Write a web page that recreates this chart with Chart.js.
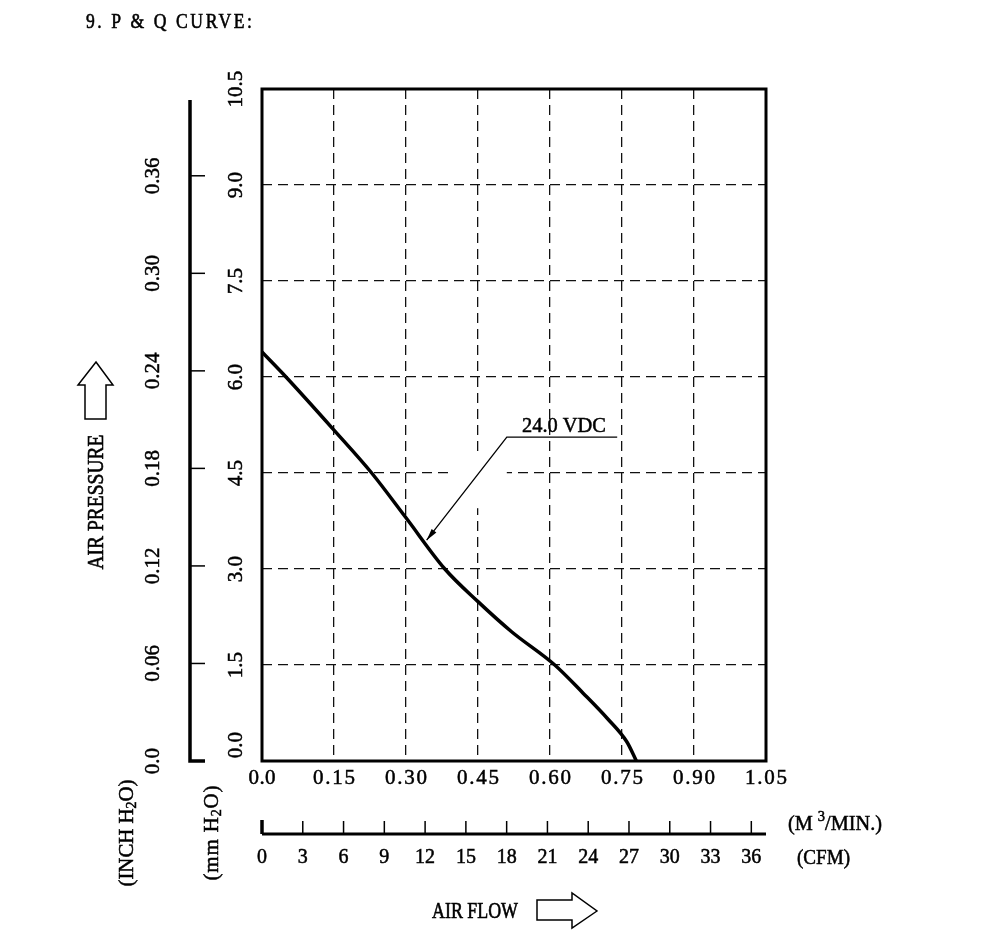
<!DOCTYPE html>
<html>
<head>
<meta charset="utf-8">
<script src="https://cdn.jsdelivr.net/npm/chart.js@4.4.1/dist/chart.umd.min.js"></script>
<style>
  html, body { margin: 0; padding: 0; background: #fff; }
  canvas { display: block; }
</style>
</head>
<body>
<canvas id="pq" width="1000" height="931"></canvas>
<script>
// P & Q curve data
const flowM3 = [0, 0.05, 0.15, 0.2285, 0.30, 0.381, 0.45, 0.52, 0.61, 0.669, 0.72, 0.76, 0.78];
const pressMm = [6.39, 6.0, 5.17, 4.5, 3.80, 3.0, 2.49, 2.02, 1.5, 1.06, 0.66, 0.30, 0];

// axis ticks
const flowTicks = [0, 0.15, 0.30, 0.45, 0.60, 0.75, 0.90, 1.05];
const flowLabels = ['0.0', '0.15', '0.30', '0.45', '0.60', '0.75', '0.90', '1.05'];
const mmTicks = [0, 1.5, 3.0, 4.5, 6.0, 7.5, 9.0, 10.5];
const mmLabels = ['0.0', '1.5', '3.0', '4.5', '6.0', '7.5', '9.0', '10.5'];
const inchTicks = [0, 0.06, 0.12, 0.18, 0.24, 0.30, 0.36];
const inchLabels = ['0.0', '0.06', '0.12', '0.18', '0.24', '0.30', '0.36'];
const cfmTicks = [0, 3, 6, 9, 12, 15, 18, 21, 24, 27, 30, 33, 36];

// label pointer: arrow tip, elbow and end of underline (data units)
const curveLabel = '24.0 VDC';
const labelTip = [0.343, 3.45];
const labelElbow = [0.51, 5.06];
const labelEnd = 0.74;

const FONT = '"Liberation Serif", "Times New Roman", serif';

// draw text runs ([text, size, shift]) centred (or left) at x,y; optionally
// rotated to read bottom-to-top and squeezed/spaced to a given width
function drawRuns(ctx, runs, x, y, o) {
  o = o || {};
  ctx.save();
  ctx.translate(x, y);
  if (o.rot) ctx.rotate(-Math.PI / 2);
  ctx.textBaseline = 'middle';
  ctx.textAlign = 'left';
  ctx.letterSpacing = '0px';
  let natural = 0, chars = 0;
  runs.forEach(r => {
    ctx.font = r[1] + 'px ' + FONT;
    natural += ctx.measureText(r[0]).width;
    chars += r[0].length;
  });
  let sx = o.squeeze || 1;
  natural *= sx;
  let sp = 0, w = natural;
  if (o.width) {
    w = o.width;
    if (natural > w) sx *= w / natural;
    else if (chars > 1) sp = (w - natural) / (chars - 1);
  }
  ctx.translate(o.left ? 0 : -w / 2, 0);
  ctx.scale(sx, 1);
  ctx.letterSpacing = sp / sx + 'px';
  ctx.lineWidth = 0.5 / sx;
  let cx = 0;
  runs.forEach(r => {
    ctx.font = r[1] + 'px ' + FONT;
    ctx.fillText(r[0], cx, r[2] || 0);
    ctx.strokeText(r[0], cx, r[2] || 0);
    cx += ctx.measureText(r[0]).width;
  });
  ctx.restore();
}

const extras = {
  id: 'extras',
  beforeDatasetsDraw(chart) {
    const { ctx, scales: { x, y } } = chart;
    // gap in the grid behind the curve label
    ctx.save();
    ctx.fillStyle = '#fff';
    const x0 = x.getPixelForValue(0.397), x1 = x.getPixelForValue(0.51);
    const y0 = y.getPixelForValue(4.78), y1 = y.getPixelForValue(3.95);
    ctx.fillRect(x0, y0, x1 - x0, y1 - y0);
    ctx.restore();
  },
  afterDraw(chart) {
    const { ctx, chartArea: a, scales: { x, y, yIn, xCfm } } = chart;
    ctx.save();
    ctx.fillStyle = '#000';
    ctx.strokeStyle = '#000';

    // plot frame
    ctx.lineWidth = 3;
    ctx.strokeRect(a.left, a.top, a.right - a.left, a.bottom - a.top);

    // title
    drawRuns(ctx, [['9. P & Q CURVE:', 22]], 86, 22, { left: true, width: 166, squeeze: 0.8 });

    // x tick labels (m3/min)
    flowTicks.forEach((v, i) => {
      const t = flowLabels[i];
      drawRuns(ctx, [[t, 21]], x.getPixelForValue(v), 778, { width: t.length === 3 ? 27 : 42 });
    });

    // mm H2O labels
    mmTicks.forEach((v, i) => {
      const py = y.getPixelForValue(v) - (v === 0 ? 16 : 0);
      drawRuns(ctx, [[mmLabels[i], 21]], 236, py, { rot: true });
    });

    // inch axis
    const ib = yIn.getPixelForValue(0);
    ctx.lineWidth = 3.5;
    ctx.beginPath();
    ctx.moveTo(190, 100);
    ctx.lineTo(190, ib);
    ctx.lineTo(205, ib);
    ctx.stroke();
    inchTicks.forEach((v, i) => {
      const py = yIn.getPixelForValue(v);
      if (v > 0) {
        ctx.lineWidth = 1.5;
        ctx.beginPath();
        ctx.moveTo(190, py);
        ctx.lineTo(205, py);
        ctx.stroke();
      }
      drawRuns(ctx, [[inchLabels[i], 21]], 153, py, { rot: true });
    });

    // CFM axis
    const cy = 834;
    ctx.lineWidth = 3;
    ctx.beginPath();
    ctx.moveTo(a.left, cy);
    ctx.lineTo(a.right, cy);
    ctx.stroke();
    cfmTicks.forEach(v => {
      const px = xCfm.getPixelForValue(v);
      ctx.lineWidth = v === 0 ? 3.5 : 1.5;
      ctx.beginPath();
      ctx.moveTo(px, v === 0 ? 820 : 821);
      ctx.lineTo(px, cy);
      ctx.stroke();
      drawRuns(ctx, [[String(v), 21]], px, 857, { width: v < 10 ? 10 : 20 });
    });

    // unit labels on the right
    drawRuns(ctx, [['(M ', 21], ['3', 15, -7], ['/MIN.)', 21]], 788, 824, { left: true, width: 94 });
    drawRuns(ctx, [['(CFM)', 21]], 797, 858, { left: true, width: 53 });

    // left titles
    drawRuns(ctx, [['AIR PRESSURE', 24]], 97, 502, { rot: true, width: 135 });
    drawRuns(ctx, [['(INCH H', 21], ['2', 14, 5], ['O)', 21]], 127, 833, { rot: true, width: 107 });
    drawRuns(ctx, [['(mm H', 21], ['2', 14, 5], ['O)', 21]], 212, 833, { rot: true, width: 95 });

    // bottom title
    drawRuns(ctx, [['AIR FLOW', 24]], 432, 912, { left: true, width: 86 });

    // outline arrows
    ctx.lineWidth = 1.5;
    ctx.fillStyle = '#fff';
    ctx.beginPath();
    ctx.moveTo(96, 362);
    ctx.lineTo(113, 385);
    ctx.lineTo(106, 385);
    ctx.lineTo(106, 419);
    ctx.lineTo(85, 419);
    ctx.lineTo(85, 385);
    ctx.lineTo(78, 385);
    ctx.closePath();
    ctx.fill();
    ctx.stroke();
    ctx.beginPath();
    ctx.moveTo(597, 911);
    ctx.lineTo(572, 928);
    ctx.lineTo(572, 920);
    ctx.lineTo(537, 920);
    ctx.lineTo(537, 900);
    ctx.lineTo(572, 900);
    ctx.lineTo(572, 893);
    ctx.closePath();
    ctx.fill();
    ctx.stroke();

    // curve label with leader
    ctx.fillStyle = '#000';
    const tx = x.getPixelForValue(labelTip[0]), ty = y.getPixelForValue(labelTip[1]);
    const ex = x.getPixelForValue(labelElbow[0]), ey = y.getPixelForValue(labelElbow[1]);
    const endX = x.getPixelForValue(labelEnd);
    ctx.lineWidth = 1.3;
    ctx.beginPath();
    ctx.moveTo(endX, ey);
    ctx.lineTo(ex, ey);
    ctx.lineTo(tx, ty);
    ctx.stroke();
    const ang = Math.atan2(ty - ey, tx - ex);
    ctx.beginPath();
    ctx.moveTo(tx, ty);
    ctx.lineTo(tx - 12 * Math.cos(ang) + 3 * Math.sin(ang), ty - 12 * Math.sin(ang) - 3 * Math.cos(ang));
    ctx.lineTo(tx - 12 * Math.cos(ang) - 3 * Math.sin(ang), ty - 12 * Math.sin(ang) + 3 * Math.cos(ang));
    ctx.closePath();
    ctx.fill();
    drawRuns(ctx, [[curveLabel, 22]], 522, ey - 11, { left: true, width: 84 });

    ctx.restore();
  }
};

const zeroSize = s => { if (s.isHorizontal()) s.height = 0; else s.width = 0; };
const gridAxis = (extra) => Object.assign({
  type: 'linear',
  ticks: { display: false },
  grid: { color: '#111', lineWidth: 1.3, drawTicks: false },
  border: { display: false, dash: [10, 6] },
  afterFit: zeroSize
}, extra);

new Chart(document.getElementById('pq'), {
  type: 'line',
  data: {
    datasets: [{
      label: curveLabel,
      data: flowM3.map((f, i) => ({ x: f, y: pressMm[i] })),
      borderColor: '#000',
      borderWidth: 3.5,
      pointRadius: 0,
      cubicInterpolationMode: 'monotone',
      fill: false
    }]
  },
  plugins: [extras],
  options: {
    responsive: false,
    animation: false,
    devicePixelRatio: 1,
    layout: { padding: { left: 262, top: 89, right: 234, bottom: 170 } },
    plugins: { legend: { display: false }, tooltip: { enabled: false } },
    scales: {
      x: gridAxis({
        position: 'bottom', min: 0, max: 1.05,
        afterBuildTicks: s => { s.ticks = flowTicks.map(v => ({ value: v })); }
      }),
      y: gridAxis({
        position: 'left', min: 0, max: 10.5,
        afterBuildTicks: s => { s.ticks = mmTicks.map(v => ({ value: v })); }
      }),
      yIn: { type: 'linear', position: 'left', display: false, min: 0, max: 10.5 / 25.4 },
      xCfm: { type: 'linear', position: 'bottom', display: false, min: 0, max: 1.05 * 35.3147 }
    }
  }
});
</script>
</body>
</html>
